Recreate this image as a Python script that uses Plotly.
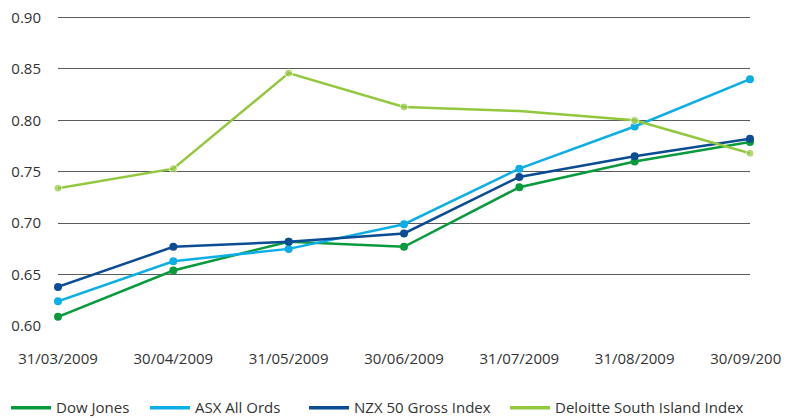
import plotly.graph_objects as go

dates = ["31/03/2009", "30/04/2009", "31/05/2009", "30/06/2009", "31/07/2009", "31/08/2009", "30/09/2009"]
dow_jones = [0.609, 0.654, 0.682, 0.677, 0.735, 0.760, 0.779]
asx_all_ords = [0.624, 0.663, 0.675, 0.699, 0.753, 0.794, 0.840]
nzx50_gross = [0.638, 0.677, 0.682, 0.690, 0.745, 0.765, 0.782]
deloitte_si = [0.734, 0.753, 0.846, 0.813, 0.809, 0.800, 0.768]
deloitte_markers = [True, True, True, True, False, True, True]
y_ticks = [0.60, 0.65, 0.70, 0.75, 0.80, 0.85, 0.90]
y_tick_labels = ["0.60", "0.65", "0.70", "0.75", "0.80", "0.85", "0.90"]

# (name, values, colour, marker flags, legend slot, legend x in paper units)
series = [
    ("Dow Jones", dow_jones, "#0A9A3E", None, "legend", -0.0751),
    ("ASX All Ords", asx_all_ords, "#0DAEE6", None, "legend2", 0.1257),
    ("NZX 50 Gross Index", nzx50_gross, "#0B4C93", None, "legend3", 0.3555),
    ("Deloitte South Island Index", deloitte_si, "#92C83E", deloitte_markers, "legend4", 0.6460),
]

fig = go.Figure()
for name, vals, color, mk, lg, lx in series:
    sizes = 8 if mk is None else [8 if m else 0 for m in mk]
    fig.add_trace(go.Scatter(
        x=dates, y=vals, name=name, mode="lines+markers",
        line=dict(color=color, width=2.5),
        marker=dict(color=color, size=sizes),
        cliponaxis=False, showlegend=False,
    ))
# legend entries (line only), one legend per entry for exact placement
for name, vals, color, mk, lg, lx in series:
    fig.add_trace(go.Scatter(
        x=[dates[0]], y=[None], name=name, mode="lines",
        line=dict(color=color, width=3.5), showlegend=True, legend=lg,
    ))

# top gridline (plotly drops the grid line lying on the plot edge)
fig.add_hline(y=y_ticks[-1], line=dict(color="#5a5a5a", width=1), layer="below")

font = "Open Sans, Noto Sans, sans-serif"
legend_common = dict(orientation="h", xanchor="left", y=-0.265, yanchor="middle",
                     font=dict(size=15, color="#333333"), itemwidth=40,
                     bgcolor="rgba(0,0,0,0)")
legends = {lg: dict(legend_common, x=lx) for _, _, _, _, lg, lx in series}

# page body has an 8px default margin, so the figure is sized/offset to compensate
fig.update_layout(
    width=781, height=410,
    margin=dict(l=50, r=39, t=9, b=92, autoexpand=False),
    plot_bgcolor="white", paper_bgcolor="white",
    font=dict(family=font, size=15, color="#333333"),
    showlegend=True,
    xaxis=dict(type="category", range=[0, 6], showgrid=False, zeroline=False,
               showline=False, ticks="", ticklabelstandoff=22,
               ticklabeloverflow="allow",
               tickfont=dict(size=15, color="#333333")),
    yaxis=dict(range=[0.60, 0.9005], tickmode="array", tickvals=y_ticks,
               ticktext=y_tick_labels, ticklabeloverflow="allow",
               showgrid=True, gridcolor="#5a5a5a", gridwidth=1,
               zeroline=False, showline=False, ticks="",
               ticklabelstandoff=16, tickfont=dict(size=15, color="#333333")),
    **legends,
)
fig.write_html("out.html")
